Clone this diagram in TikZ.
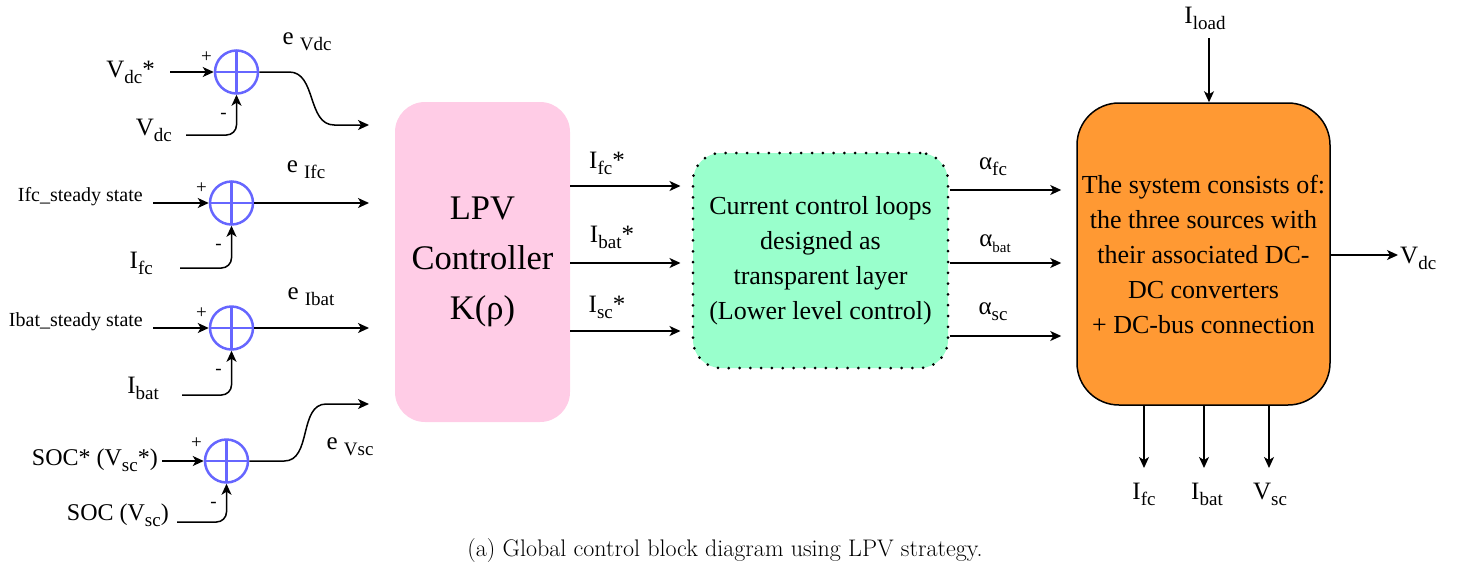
\documentclass[tikz,border=0pt]{standalone}
\usepackage{fontspec}
\usetikzlibrary{arrows.meta}
\newfontfamily\tnr{Liberation Serif}
\newfontfamily\capfont{Latin Modern Roman}
\newcommand{\lowtxt}[2][19]{\raisebox{-6pt}{\fontsize{#1}{#1}\selectfont #2}}
\definecolor{sumcol}{RGB}{102,102,255}
\definecolor{lpvcol}{RGB}{255,204,230}
\definecolor{loopcol}{RGB}{153,255,204}
\definecolor{syscol}{RGB}{255,153,51}
\tikzset{every picture/.style={x=1pt,y=-1pt}}
\tikzset{lbl/.style={inner sep=0pt,font=\tnr\fontsize{25}{30}\selectfont}}
\tikzset{smalllbl/.style={inner sep=0pt,font=\tnr\fontsize{20}{24}\selectfont}}
\tikzset{sign/.style={inner sep=0pt,font=\tnr\fontsize{19}{19}\selectfont}}
\tikzset{wire/.style={-{Stealth[length=11pt,width=10pt,inset=3pt]},line width=1.5pt}}
\tikzset{sumnode/.style={circle,draw=sumcol,line width=2.5pt,minimum size=43pt,inner sep=0pt,
  path picture={\draw[sumcol,line width=2.5pt] (path picture bounding box.north) -- (path picture bounding box.south)
  (path picture bounding box.west) -- (path picture bounding box.east);}}}
\tikzset{block/.style={align=center,inner sep=0pt,font=\tnr\fontsize{26}{35}\selectfont}}

\begin{document}
\begin{tikzpicture}
\useasboundingbox (0,0) rectangle (1474,571);

\node [sumnode] (s1) at (236.5,72) {};
\node [sumnode] (s2) at (231.5,203) {};
\node [sumnode] (s3) at (231.5,328) {};
\node [sumnode] (s4) at (226.5,461) {};

\node [sign] (p1) at ([shift={(-30,-15)}]s1.center) {+};
\node [sign] (p2) at ([shift={(-30,-15)}]s2.center) {+};
\node [sign] (p3) at ([shift={(-30,-15)}]s3.center) {+};
\node [sign] (p4) at ([shift={(-30,-18)}]s4.center) {+};
\node [sign] (m1) at ([shift={(-13,44)}]s1.center) {-};
\node [sign] (m2) at ([shift={(-13,44)}]s2.center) {-};
\node [sign] (m3) at ([shift={(-13,44)}]s3.center) {-};
\node [sign] (m4) at ([shift={(-13,44)}]s4.center) {-};

\node [lbl,anchor=east] (vdcref) at (155,72) {V\lowtxt{dc}*};
\node [lbl,anchor=east] (vdcmeas) at (172,130) {V\lowtxt{dc}};
\node [smalllbl,anchor=east] (ifcss) at (143,197) {Ifc\_steady state};
\node [lbl,anchor=east] (ifcmeas) at (153,263) {I\lowtxt{fc}};
\node [smalllbl,anchor=east] (ibatss) at (143,322) {Ibat\_steady state};
\node [lbl,anchor=east] (ibatmeas) at (159,388) {I\lowtxt{bat}};
\node [lbl,anchor=east,font=\tnr\fontsize{24}{30}\selectfont] (socref) at (158,460) {SOC* (V\lowtxt{sc}*)};
\node [lbl,anchor=east,font=\tnr\fontsize{24}{30}\selectfont] (socmeas) at (169,515) {SOC (V\lowtxt{sc})};

\coordinate (i1) at (170,72);
\coordinate (i2) at (153,203);
\coordinate (i3) at (153,328);
\coordinate (i4) at (162,461);
\coordinate (f1) at (186,135);
\coordinate (f2) at (180,268);
\coordinate (f3) at (182,395);
\coordinate (f4) at (177,522);

\draw [wire] (i1) -- (s1.west);
\draw [wire] (i2) -- (s2.west);
\draw [wire] (i3) -- (s3.west);
\draw [wire] (i4) -- (s4.west);
\draw [wire,rounded corners=10pt] (f1) -| (s1.south);
\draw [wire,rounded corners=10pt] (f2) -| (s2.south);
\draw [wire,rounded corners=10pt] (f3) -| (s3.south);
\draw [wire,rounded corners=10pt] (f4) -| (s4.south);

\coordinate (e1) at (369,125);
\coordinate (e2) at (369,203);
\coordinate (e3) at (369,328);
\coordinate (e4) at (369,404);
\draw [wire] (s1.east) -- ++(30,0) to[out=0,in=180] ++(45,53) -- (e1);
\draw [wire] (s2.east) -- (e2);
\draw [wire] (s3.east) -- (e3);
\draw [wire] (s4.east) -- ++(35,0) to[out=0,in=180] ++(42,-57) -- (e4);

\node [lbl] (ev) at (307,42) {e \lowtxt{Vdc}};
\node [lbl] (eifc) at (306,170) {e \lowtxt{Ifc}};
\node [lbl] (eibat) at (311,297) {e \lowtxt{Ibat}};
\node [lbl] (evsc) at (350,447) {e \lowtxt{Vsc}};

\node [block,fill=lpvcol,rounded corners=30pt,minimum width=175pt,minimum height=320pt,
  font=\tnr\fontsize{34.5}{50}\selectfont] (lpv) at (482.5,262) {LPV\\Controller\\K(ρ)};
\node [block,fill=loopcol,draw,line width=3pt,line cap=round,dash pattern=on 0pt off 10.8pt,
  rounded corners=28pt,minimum width=255pt,minimum height=215pt] (loops) at (820.5,260.5)
  {Current control loops\\designed as\\transparent layer\\(Lower level control)};
\node [block,fill=syscol,draw,line width=1.5pt,rounded corners=42pt,minimum width=253pt,
  minimum height=302pt] (sys) at (1203.5,254)
  {The system consists of:\\the three sources with\\their associated DC-\\DC converters\\+ DC-bus connection};

\draw [wire,shorten >=11pt] (lpv.east |- 0,186) -- (loops.west |- 0,186);
\draw [wire,shorten >=11pt] (lpv.east |- 0,263) -- (loops.west |- 0,263);
\draw [wire,shorten >=11pt] (lpv.east |- 0,331) -- (loops.west |- 0,331);
\node [lbl] (ifcref) at (607,163) {I\lowtxt{fc}*};
\node [lbl] (ibatref) at (612,237) {I\lowtxt{bat}*};
\node [lbl] (iscref) at (607,307) {I\lowtxt{sc}*};

\draw [wire,shorten >=15pt] (loops.east |- 0,190) -- (sys.west |- 0,190);
\draw [wire,shorten >=15pt] (loops.east |- 0,263) -- (sys.west |- 0,263);
\draw [wire,shorten >=15pt] (loops.east |- 0,336) -- (sys.west |- 0,336);
\node [lbl] (afc) at (993,167) {α\lowtxt{fc}};
\node [lbl] (abat) at (995,244) {α\lowtxt[15]{bat}};
\node [lbl] (asc) at (993,312) {α\lowtxt{sc}};

\node [lbl] (iload) at (1205,18) {I\lowtxt{load}};
\coordinate (loadin) at (1209,38);
\draw [wire] (loadin) -- (loadin |- sys.north);

\coordinate (vdcout) at (1398,255);
\draw [wire] (sys.east |- vdcout) -- (vdcout);
\node [lbl,anchor=west] (vdc) at (1400,258) {V\lowtxt{dc}};

\coordinate (ifcend) at (1144,468);
\coordinate (ibatend) at (1204,468);
\coordinate (vscend) at (1269,468);
\draw [wire] (ifcend |- sys.south) -- (ifcend);
\draw [wire] (ibatend |- sys.south) -- (ibatend);
\draw [wire] (vscend |- sys.south) -- (vscend);
\node [lbl] (ifc) at (1144,494) {I\lowtxt{fc}};
\node [lbl] (ibat) at (1207,494) {I\lowtxt{bat}};
\node [lbl] (vsc) at (1270,494) {V\lowtxt{sc}};

\node [inner sep=0pt,font=\capfont\fontsize{24}{28}\selectfont] (cap) at (725,551)
  {(a) Global control block diagram using LPV strategy.};
\end{tikzpicture}
\end{document}
